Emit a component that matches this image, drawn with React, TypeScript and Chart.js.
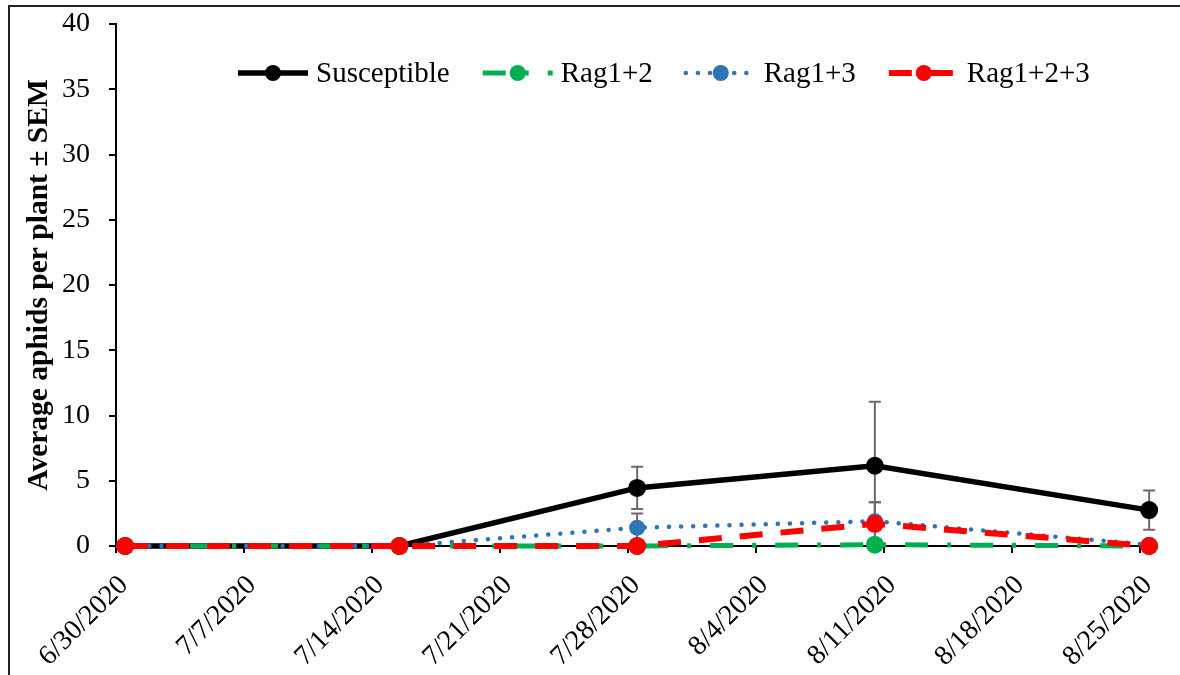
import React, { useEffect, useRef } from "react";
import { Chart, registerables } from "chart.js";

Chart.register(...registerables);

// ---- data ----
const sampleDates = ["6/30/2020", "7/15/2020", "7/28/2020", "8/10/2020", "8/25/2020"];
const seriesNames = ["Susceptible", "Rag1+2", "Rag1+3", "Rag1+2+3"];
const susceptible = [0, 0, 4.45, 6.15, 2.75];
const susceptibleSem = [0, 0, 1.62, 4.9, 1.5];
const rag12 = [0, 0, 0, 0.1, 0];
const rag12Sem = [0, 0, 0, 0, 0];
const rag13 = [0, 0, 1.4, 1.9, 0.1];
const rag13Sem = [0, 0, 1.1, 1.45, 0.1];
const rag123 = [0, 0, 0, 1.7, 0];
const rag123Sem = [0, 0, 0, 1.65, 0];
const axisStartDate = "6/30/2020";
const axisEndDate = "8/25/2020";
const tickStepDays = 7;
const yMin = 0;
const yMax = 40;
const yStep = 5;
const yTitle = "Average aphids per plant ± SEM";

// ---- helpers ----
const parseUTC = (s: string) => {
  const [m, d, y] = s.split("/").map(Number);
  return Date.UTC(y, m - 1, d);
};
const DAY = 86400000;
const startMs = parseUTC(axisStartDate);
const dayIndex = (s: string) => Math.round((parseUTC(s) - startMs) / DAY);
const fmtDay = (v: number) => {
  const dt = new Date(startMs + Math.round(v) * DAY);
  return `${dt.getUTCMonth() + 1}/${dt.getUTCDate()}/${dt.getUTCFullYear()}`;
};
// Excel date axis places each value in the middle of its day
const xs = sampleDates.map((s) => dayIndex(s) + 0.5);
const toPts = (vals: number[]) => vals.map((v, i) => ({ x: xs[i], y: v }));

const SERIF = "'Liberation Serif', 'Times New Roman', serif";

const styles = [
  { color: "#000000", width: 5.5, dash: [] as number[], cap: "butt", radius: 9 },
  { color: "#00B050", width: 5, dash: [23, 19, 4, 19], cap: "butt", radius: 9 },
  { color: "#2E75B6", width: 4.5, dash: [0.1, 12], cap: "round", radius: 8 },
  { color: "#FF0000", width: 6, dash: [23, 18], cap: "butt", radius: 9 },
];
const values = [susceptible, rag12, rag13, rag123];
const sems = [susceptibleSem, rag12Sem, rag13Sem, rag123Sem];
const orders = [4, 2, 3, 1];
const PLOT_TOP = 24;

const fixTopPlugin = {
  id: "fixTop",
  afterLayout(chart: any) {
    const y = chart.scales.y;
    y.top = PLOT_TOP;
    y.height = y.bottom - PLOT_TOP;
    y.configure();
    chart.chartArea.top = PLOT_TOP;
    chart.chartArea.height = chart.chartArea.bottom - PLOT_TOP;
  },
};

const extendAreaPlugin = {
  id: "extendArea",
  beforeDatasetsDraw(chart: any) {
    chart.$savedArea = chart.chartArea;
    chart.chartArea = { ...chart.chartArea, right: chart.chartArea.right + 30, bottom: chart.chartArea.bottom + 20 };
  },
  afterDatasetsDraw(chart: any) {
    if (chart.$savedArea) chart.chartArea = chart.$savedArea;
  },
};

const errorBarPlugin = {
  id: "errorBars",
  beforeDatasetsDraw(chart: any) {
    const { ctx } = chart;
    const xS = chart.scales.x;
    const yS = chart.scales.y;
    ctx.save();
    ctx.strokeStyle = "#6b6b6b";
    ctx.lineWidth = 2;
    chart.data.datasets.forEach((ds: any) => {
      const sem: number[] = ds.sem || [];
      ds.data.forEach((p: any, i: number) => {
        const s = sem[i];
        if (!s) return;
        const x = xS.getPixelForValue(p.x);
        const yt = yS.getPixelForValue(p.y + s);
        const yb = yS.getPixelForValue(p.y - s);
        ctx.beginPath();
        ctx.moveTo(x, yt);
        ctx.lineTo(x, yb);
        ctx.moveTo(x - 6, yt);
        ctx.lineTo(x + 6, yt);
        ctx.moveTo(x - 6, yb);
        ctx.lineTo(x + 6, yb);
        ctx.stroke();
      });
    });
    ctx.restore();
  },
};

const legendPlugin = {
  id: "customLegend",
  afterDraw(chart: any) {
    const { ctx } = chart;
    ctx.save();
    ctx.font = `29px ${SERIF}`;
    ctx.textBaseline = "middle";
    ctx.fillStyle = "#000";
    let x = 238;
    const y = 73;
    const lineLen = 70;
    chart.data.datasets.forEach((ds: any, i: number) => {
      const st = styles[i];
      ctx.save();
      ctx.strokeStyle = st.color;
      ctx.lineWidth = st.width;
      ctx.lineCap = st.cap;
      ctx.setLineDash(st.dash);
      ctx.beginPath();
      ctx.moveTo(x, y);
      ctx.lineTo(x + lineLen, y);
      ctx.stroke();
      ctx.setLineDash([]);
      ctx.fillStyle = st.color;
      ctx.beginPath();
      ctx.arc(x + lineLen / 2, y, 8, 0, Math.PI * 2);
      ctx.fill();
      ctx.restore();
      const tx = x + lineLen + 8;
      ctx.fillText(ds.label, tx, y + 1);
      x = tx + ctx.measureText(ds.label).width + 33;
    });
    ctx.restore();
  },
};

const framePlugin = {
  id: "frame",
  afterDraw(chart: any) {
    const { ctx } = chart;
    ctx.save();
    ctx.strokeStyle = "#222";
    ctx.lineWidth = 2;
    ctx.strokeRect(9, 6, 1400, 1000);
    ctx.restore();
  },
};

export default function App() {
  const ref = useRef<HTMLCanvasElement | null>(null);
  useEffect(() => {
    if (!ref.current) return;
    const datasets = seriesNames.map((name, i) => ({
      label: name,
      data: toPts(values[i]),
      sem: sems[i],
      borderColor: styles[i].color,
      backgroundColor: styles[i].color,
      pointBackgroundColor: styles[i].color,
      pointBorderColor: styles[i].color,
      pointRadius: styles[i].radius,
      pointBorderWidth: 0,
      borderWidth: styles[i].width,
      borderDash: styles[i].dash,
      borderCapStyle: styles[i].cap,
      tension: 0,
      order: orders[i],
      clip: false,
    }));
    const chart = new Chart(ref.current, {
      type: "line",
      data: { datasets } as any,
      options: {
        animation: false,
        responsive: false,
        devicePixelRatio: 1,
        layout: { padding: { left: 10, top: 12, right: 40, bottom: 0 } },
        plugins: { legend: { display: false }, tooltip: { enabled: false } },
        scales: {
          x: {
            type: "linear",
            min: 0,
            max: dayIndex(axisEndDate),
            afterFit(scale: any) {
              scale.height = 129;
            },
            afterBuildTicks(scale: any) {
              const t = [];
              for (let v = 0; v <= dayIndex(axisEndDate); v += tickStepDays) t.push({ value: v });
              scale.ticks = t;
            },
            ticks: {
              callback: (v: any) => fmtDay(Number(v)),
              minRotation: 45,
              maxRotation: 45,
              autoSkip: false,
              color: "#000",
              font: { family: SERIF, size: 28 },
              padding: 16,
              labelOffset: 8,
            },
            grid: { drawOnChartArea: false, drawTicks: true, tickLength: 7, color: "#000", lineWidth: 2 },
            border: { color: "#000", width: 2 },
          },
          y: {
            type: "linear",
            min: yMin,
            max: yMax,
            afterFit(scale: any) {
              scale.width = 106;
            },
            ticks: {
              stepSize: yStep,
              color: "#000",
              font: { family: SERIF, size: 28 },
              padding: 19,
            },
            grid: { drawOnChartArea: false, drawTicks: true, tickLength: 7, color: "#000", lineWidth: 2 },
            border: { color: "#000", width: 2 },
            title: {
              display: true,
              text: yTitle,
              color: "#000",
              font: { family: SERIF, size: 29.5, weight: "bold" },
              padding: { top: 12, bottom: 0 },
            },
          },
        },
      } as any,
      plugins: [fixTopPlugin, extendAreaPlugin, errorBarPlugin, legendPlugin, framePlugin],
    });
    return () => chart.destroy();
  }, []);
  return (
    <div style={{ position: "fixed", left: 0, top: 0, width: 1180, height: 675, background: "#fff" }}>
      <canvas ref={ref} width={1180} height={675} />
    </div>
  );
}
